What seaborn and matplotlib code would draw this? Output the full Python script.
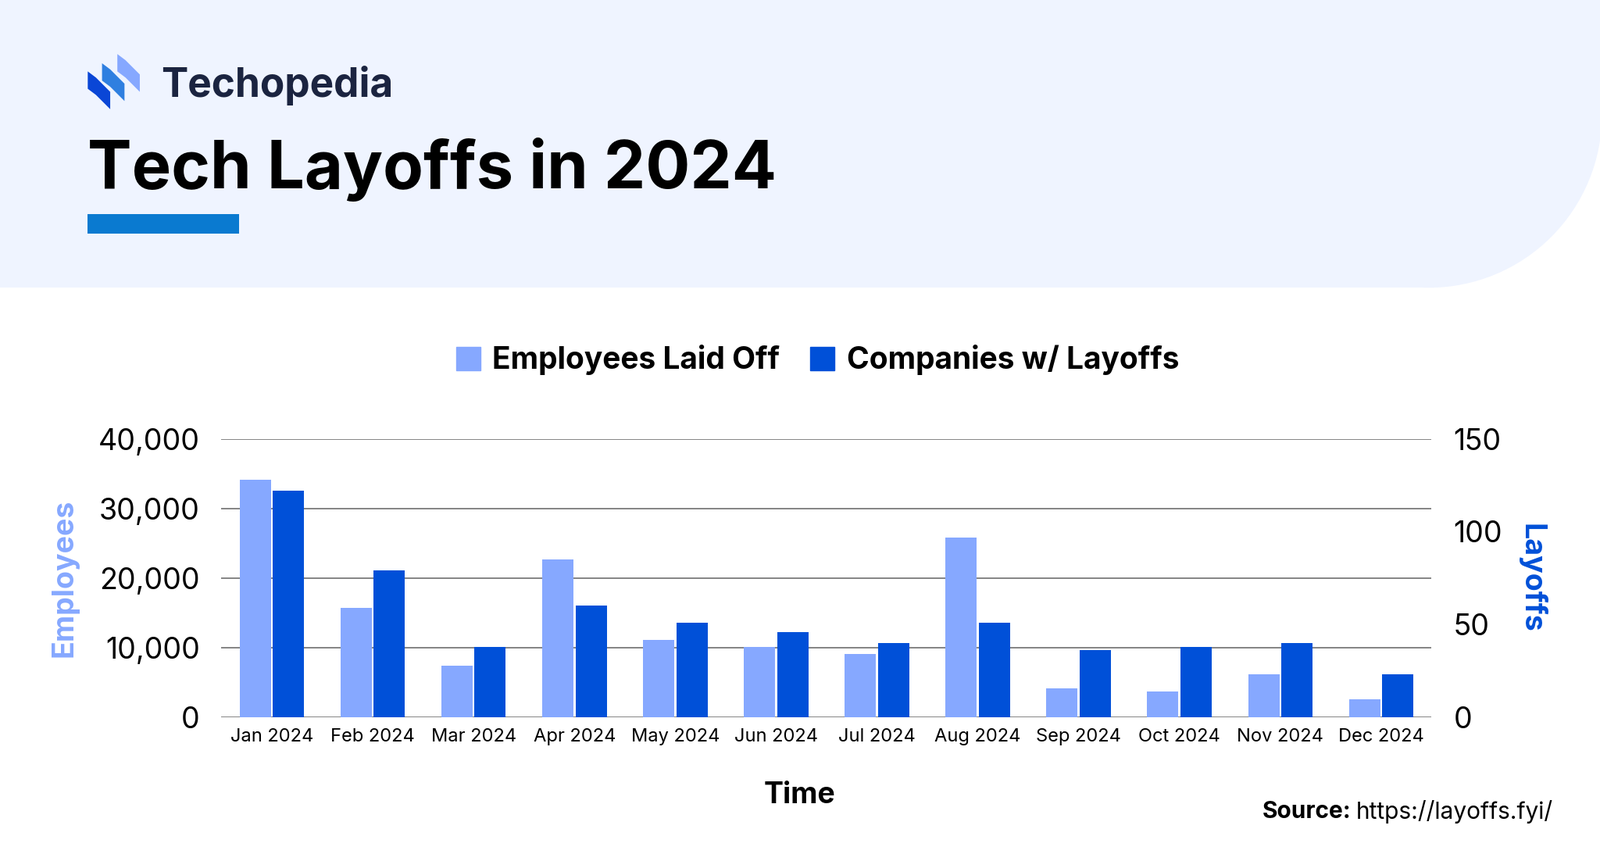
import matplotlib
matplotlib.use("Agg")
import matplotlib.pyplot as plt
import matplotlib.patches as mpatches
import pandas as pd
import seaborn as sns
from matplotlib.ticker import FuncFormatter

months = ["Jan 2024", "Feb 2024", "Mar 2024", "Apr 2024", "May 2024", "Jun 2024",
          "Jul 2024", "Aug 2024", "Sep 2024", "Oct 2024", "Nov 2024", "Dec 2024"]
employees = [34100, 15700, 7450, 22700, 11150, 10100, 9100, 25800, 4100, 3650, 6150, 2600]
companies = [122, 79, 38, 60, 51, 46, 40, 51, 36, 38, 40, 23]
series = ["Employees Laid Off", "Companies w/ Layoffs"]

LIGHT = "#86a8ff"
DARK = "#0050d8"
FONT = "Inter"
W, H = 1568, 837  # layout reference units

fig = plt.figure(figsize=(20.48, 10.93), dpi=100)

# ── background / header ─────────────────────────────────────────────
bg = fig.add_axes([0, 0, 1, 1])
bg.set_xlim(0, W)
bg.set_ylim(H, 0)
bg.axis("off")
band = "#eff4ff"
bg.add_patch(mpatches.Rectangle((0, 0), 1400, 282, color=band, lw=0))
bg.add_patch(mpatches.Rectangle((1400, 0), 170, 112, color=band, lw=0))
bg.add_patch(mpatches.Circle((1400, 112), 170, color=band, lw=0))

# logo
for dx, dy, c in [(29, -17, "#86a8ff"), (14, -8, "#2f7fe0"), (0, 0, "#0a46d6")]:
    x0, y0 = 86 + dx, 70 + dy
    bg.add_patch(mpatches.Polygon(
        [(x0, y0), (x0 + 8, y0 + 6), (x0 + 22, y0 + 20), (x0 + 22, y0 + 37),
         (x0 + 8, y0 + 23), (x0, y0 + 17)],
        closed=True, color=c, lw=0))
bg.text(158, 84, "Techopedia", fontsize=37, fontweight="bold", family=FONT,
        color="#1b2440", va="center", ha="left")
bg.text(86, 166, "Tech Layoffs in 2024", fontsize=61, fontweight="bold", family=FONT,
        color="black", va="center", ha="left")
bg.add_patch(mpatches.Rectangle((86, 210), 148, 19, color="#0a7ad0", lw=0))

# ── chart ───────────────────────────────────────────────────────────
rect = [217 / W, 1 - 703 / H, (1403 - 217) / W, (703 - 430) / H]
ax1 = fig.add_axes(rect)
ax2 = ax1.twinx()

df1 = pd.DataFrame({"month": months * 2, "series": [series[0]] * 12 + [series[1]] * 12,
                    "value": employees + [0] * 12})
df2 = pd.DataFrame({"month": months * 2, "series": [series[0]] * 12 + [series[1]] * 12,
                    "value": [0] * 12 + companies})
pal = {series[0]: LIGHT, series[1]: DARK}
sns.barplot(data=df1, x="month", y="value", hue="series", hue_order=series,
            palette=pal, width=0.66, gap=0.06, ax=ax1, legend=False, saturation=1)
sns.barplot(data=df2, x="month", y="value", hue="series", hue_order=series,
            palette=pal, width=0.66, gap=0.06, ax=ax2, legend=False, saturation=1)

ax1.set_ylim(0, 40000)
ax2.set_ylim(0, 150)
ax1.set_yticks([0, 10000, 20000, 30000, 40000])
ax2.set_yticks([0, 50, 100, 150])
ax1.yaxis.set_major_formatter(FuncFormatter(lambda v, p: f"{int(v):,}"))
ax1.grid(axis="y", color="#707070", lw=1.2)
ax1.set_axisbelow(True)
for a in (ax1, ax2):
    for s in a.spines.values():
        s.set_visible(False)
    a.tick_params(length=0)
for lab in ax1.get_yticklabels() + ax2.get_yticklabels():
    lab.set_fontsize(27)
    lab.set_family(FONT)
ax1.tick_params(axis="y", pad=20)
ax2.tick_params(axis="y", pad=20)
for lab in ax1.get_xticklabels():
    lab.set_fontsize(17)
    lab.set_family(FONT)
ax1.tick_params(axis="x", pad=10)
ax1.set_xlabel("Time", fontsize=27, fontweight="bold", family=FONT)
ax1.xaxis.set_label_coords((784 - 217) / (1403 - 217), -0.23)
ax1.set_ylabel("Employees", fontsize=27, fontweight="bold", family=FONT,
               color=LIGHT, labelpad=18)
ax2.set_ylabel("Layoffs", fontsize=27, fontweight="bold", family=FONT,
               color=DARK, rotation=270, labelpad=40)

handles = [mpatches.Patch(color=LIGHT, label=series[0]),
           mpatches.Patch(color=DARK, label=series[1])]
fig.legend(handles=handles, loc="center", bbox_to_anchor=(0.511, 1 - 353 / H), ncol=2,
           frameon=False, prop={"family": FONT, "weight": "bold", "size": 28},
           handlelength=0.8, handleheight=0.8, handletextpad=0.4, columnspacing=1.0)

bg.text(1329, 796, "https://layoffs.fyi/", fontsize=21.5, family=FONT, ha="left", va="center")
bg.text(1324, 796, "Source:", fontsize=21.5, family=FONT, fontweight="bold", ha="right", va="center")

fig.savefig("out.png", dpi=100)
